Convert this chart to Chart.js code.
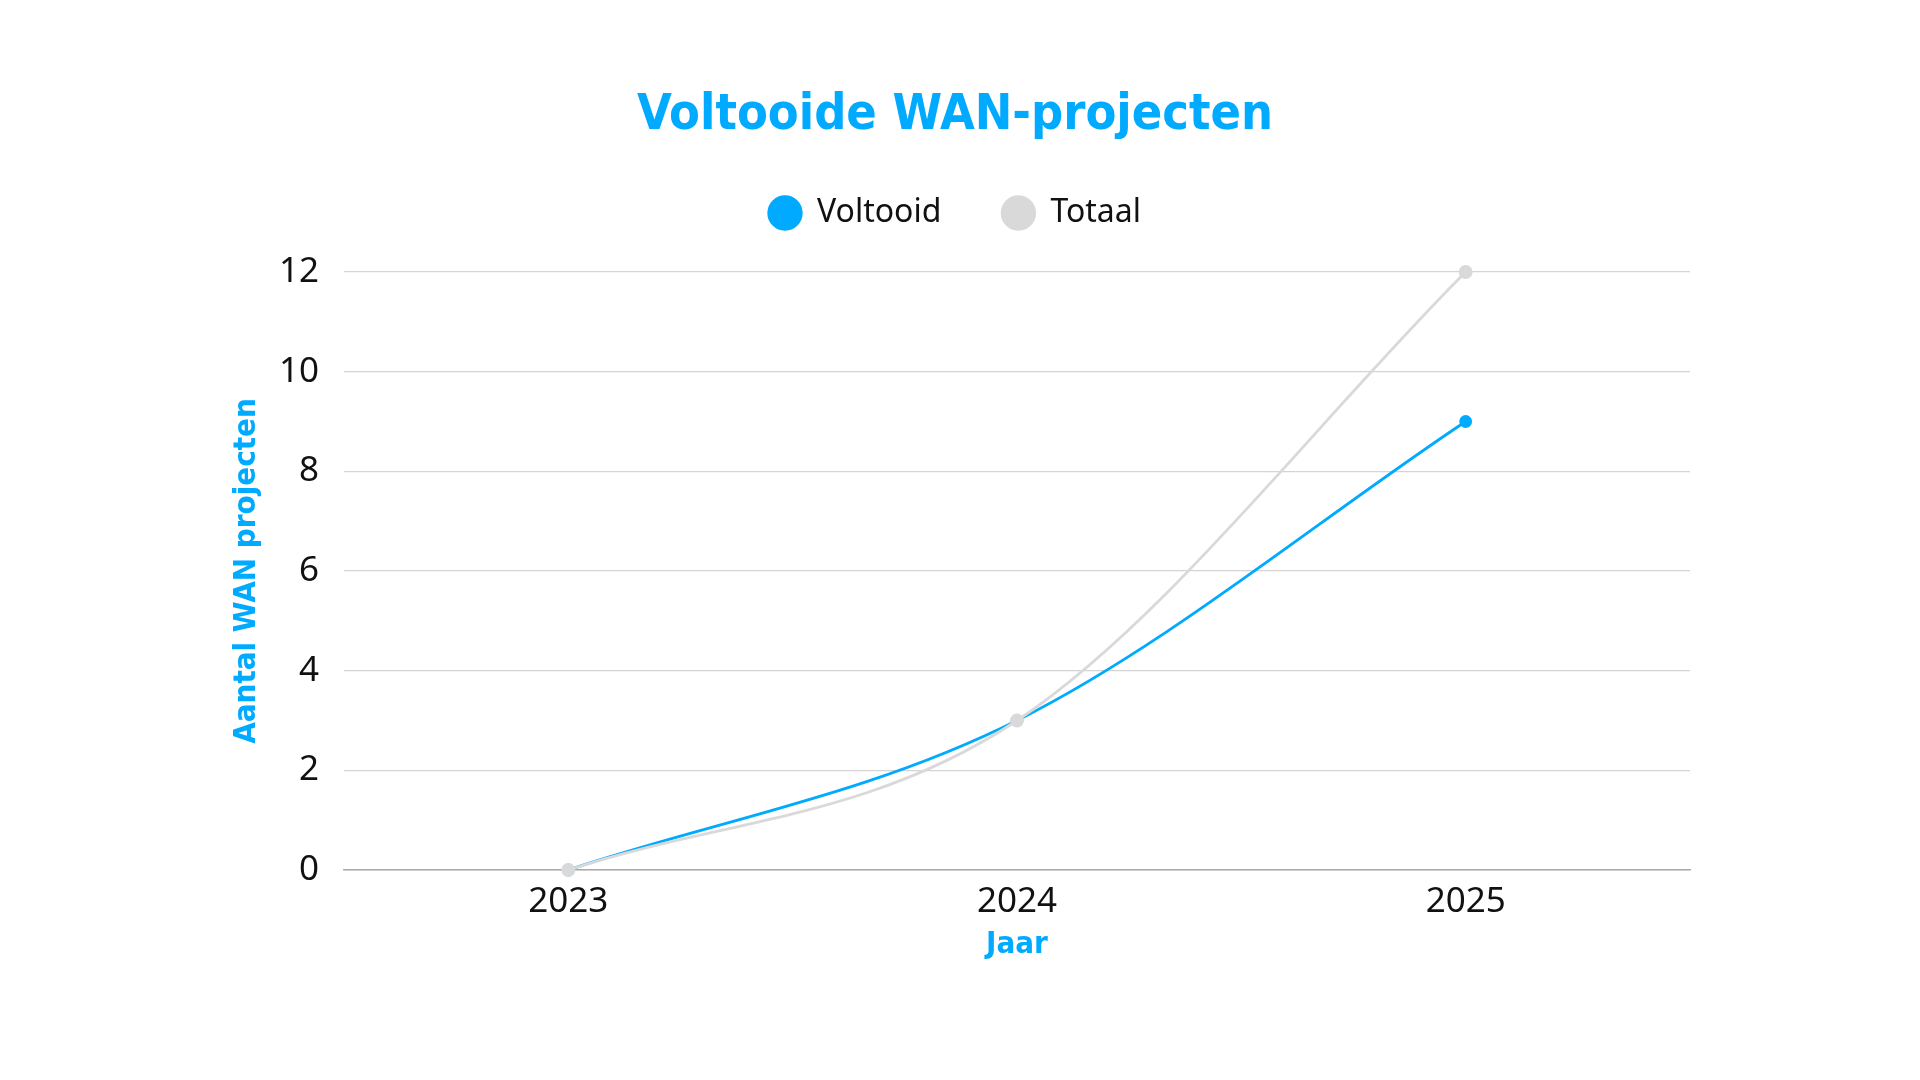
<!DOCTYPE html>
<html>
<head>
<meta charset="utf-8">
<script src="https://cdn.jsdelivr.net/npm/chart.js@4.4.1/dist/chart.umd.min.js"></script>
<style>
  html, body { margin: 0; padding: 0; background: #fff; }
</style>
</head>
<body>
<canvas id="line" width="1920" height="1080"></canvas>
<script>
const years = ['2023', '2024', '2025'];
const voltooid = [0, 3, 9];
const totaal = [0, 3, 12];

const BLUE = '#00aaff';
const GREY = '#d9d9d9';
const BODY_FONT = '"Noto Sans", "DejaVu Sans", sans-serif';
const BOLD_FONT = '"DejaVu Sans Condensed", "Roboto", sans-serif';

Chart.defaults.font.family = BODY_FONT;
Chart.defaults.color = '#111';

// push the plot down a bit below the legend
const legendGap = {
  id: 'legendGap',
  beforeInit(chart){
    const fit = chart.legend.fit;
    chart.legend.fit = function(){
      fit.bind(chart.legend)();
      this.height += 33;
    };
  }
};

function graph_line(){
  const ctx = document.getElementById('line');
  new Chart(ctx, {
    type: 'line',
    data: {
      labels: years,
      datasets: [{
        label: 'Voltooid',
        data: voltooid,
        borderColor: BLUE,
        backgroundColor: BLUE,
        borderWidth: 2.8,
        pointRadius: 5,
        pointHoverRadius: 5,
        cubicInterpolationMode: 'monotone',
        clip: false,
        order: 1
      }, {
        label: 'Totaal',
        data: totaal,
        borderColor: GREY,
        backgroundColor: GREY,
        borderWidth: 2.8,
        pointRadius: 5.5,
        pointHoverRadius: 5.5,
        cubicInterpolationMode: 'monotone',
        clip: false,
        order: 0
      }]
    },
    options: {
      responsive: false,
      animation: false,
      layout: { padding: { top: 60, left: 220, right: 230, bottom: 110 } },
      plugins: {
        title: {
          display: true,
          text: 'Voltooide WAN-projecten',
          color: BLUE,
          font: { family: BOLD_FONT, size: 50, weight: 'bold' },
          padding: { top: 26, bottom: -10 }
        },
        legend: {
          labels: {
            usePointStyle: true,
            pointStyle: 'circle',
            boxWidth: 33,
            boxHeight: 23,
            padding: 61,
            color: '#111',
            font: { size: 32 },
            sort: (a, b) => a.datasetIndex - b.datasetIndex
          }
        },
        tooltip: { enabled: false }
      },
      scales: {
        x: {
          offset: true,
          grid: { display: false, drawTicks: false },
          border: { color: '#aaaaaa', width: 1.5 },
          ticks: { padding: 11, color: '#111', font: { size: 35 } },
          title: {
            display: true,
            text: 'Jaar',
            color: BLUE,
            font: { family: BOLD_FONT, size: 31, weight: 'bold' },
            padding: { top: 0, bottom: 6 }
          },
          afterFit: s => { s.height = 100; }
        },
        y: {
          min: 0,
          max: 12,
          ticks: { stepSize: 2, padding: 25, color: '#111', font: { size: 35 } },
          grid: { color: '#d4d4d4', drawTicks: false, lineWidth: 1.2 },
          border: { display: false },
          title: {
            display: true,
            text: 'Aantal WAN projecten',
            color: BLUE,
            font: { family: BOLD_FONT, size: 31, weight: 'bold' },
            padding: { top: 8, bottom: 0 }
          },
          afterFit: s => { s.width = 124; }
        }
      }
    },
    plugins: [legendGap]
  });
}

graph_line();
</script>
</body>
</html>
